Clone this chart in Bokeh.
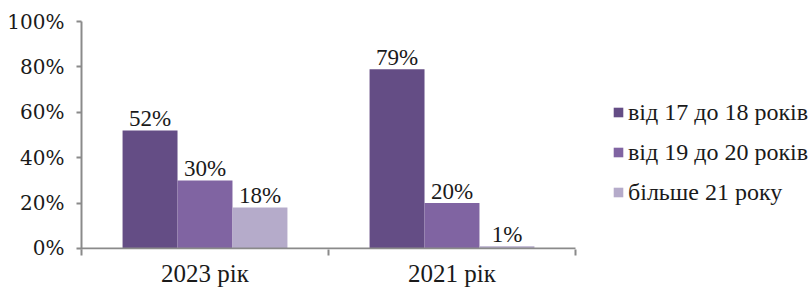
from bokeh.plotting import figure
from bokeh.models import Range1d, FixedTicker, Legend, LegendItem, ColumnDataSource
from bokeh.core.properties import value
from bokeh.embed import file_html
from bokeh.resources import INLINE

# ---- data ----
years = ["2023 рік", "2021 рік"]
groups = ["від 17 до 18 років", "від 19 до 20 років", "більше 21 року"]
values_2023 = [52, 30, 18]
values_2021 = [79, 20, 1]
y_ticks = [0, 20, 40, 60, 80, 100]
y_tick_labels = ["0%", "20%", "40%", "60%", "80%", "100%"]
colors = ["#644d85", "#8064a2", "#b5abca"]

FONT = "'Liberation Serif', 'Times New Roman', serif"
AXIS_COLOR = "#8a8a8a"
series = [values_2023, values_2021]

# layout: frame spans to the right edge so the legend can sit inside it
W, H = 811, 289
LEFT, TOP, BOTTOM = 81, 21, 40
frame_w = W - LEFT
cat_px = 247
x_end = frame_w / cat_px

p = figure(width=W, height=H, output_backend="svg", toolbar_location=None,
           x_range=Range1d(0, x_end), y_range=Range1d(-0.45, 100),
           min_border_left=LEFT, min_border_right=0, min_border_top=TOP,
           min_border_bottom=BOTTOM)
p.outline_line_color = None
p.grid.visible = False
p.background_fill_color = "white"

bar_w = 0.2225
renderers = []
for j, g in enumerate(groups):
    xs = [i + 0.5 + (j - 1) * bar_w for i in range(len(years))]
    ys = [series[i][j] for i in range(len(years))]
    src = ColumnDataSource(dict(x=xs, top=ys, lab=[f"{v}%" for v in ys]))
    r = p.vbar(x="x", top="top", bottom=0, width=bar_w, source=src,
               fill_color=colors[j], line_color=None)
    renderers.append(r)
    p.text(x="x", y="top", text="lab", source=src, text_align="center",
           text_baseline="alphabetic", y_offset=-12, text_font=value(FONT),
           text_font_size="23px", text_color="#1a1a1a")

# x axis line (only across the categories)
p.segment(x0=[0], y0=[0], x1=[len(years)], y1=[0], line_color=AXIS_COLOR, line_width=2)

# y axis
ya = p.yaxis[0]
ya.ticker = FixedTicker(ticks=y_ticks)
ya.major_label_overrides = {t: l for t, l in zip(y_ticks, y_tick_labels)}
ya.major_label_text_font = "DejaVu Serif"
ya.major_label_text_font_size = "20px"
ya.major_label_text_color = "#1a1a1a"
ya.axis_line_color = AXIS_COLOR
ya.axis_line_width = 2
ya.major_tick_line_color = AXIS_COLOR
ya.major_tick_line_width = 2
ya.major_tick_out = 5
ya.major_tick_in = 0
ya.minor_tick_line_color = None
ya.major_label_standoff = 12

# x axis
xa = p.xaxis[0]
centers = [i + 0.5 for i in range(len(years))]
xa.ticker = FixedTicker(ticks=centers, minor_ticks=list(range(len(years) + 1)))
xa.major_label_overrides = {c: y for c, y in zip(centers, years)}
xa.major_label_text_font = "Liberation Serif"
xa.major_label_text_font_size = "25px"
xa.major_label_text_color = "#1a1a1a"
xa.axis_line_color = None
xa.major_tick_line_color = None
xa.minor_tick_line_color = AXIS_COLOR
xa.minor_tick_line_width = 2
xa.minor_tick_out = 6
xa.minor_tick_in = 0
xa.major_label_standoff = 4

legend = Legend(items=[LegendItem(label=g, renderers=[r]) for g, r in zip(groups, renderers)],
                location=(531, 43), orientation="vertical")
legend.background_fill_alpha = 0
legend.border_line_color = None
legend.margin = 0
legend.padding = 0
legend.glyph_width = 12
legend.glyph_height = 12
legend.label_height = 28
legend.spacing = 12
legend.label_standoff = 4
legend.label_text_font = "Liberation Serif"
legend.label_text_font_size = "24px"
legend.label_text_color = "#1a1a1a"
p.add_layout(legend, "center")

open("out.html", "w").write(file_html(p, INLINE))
